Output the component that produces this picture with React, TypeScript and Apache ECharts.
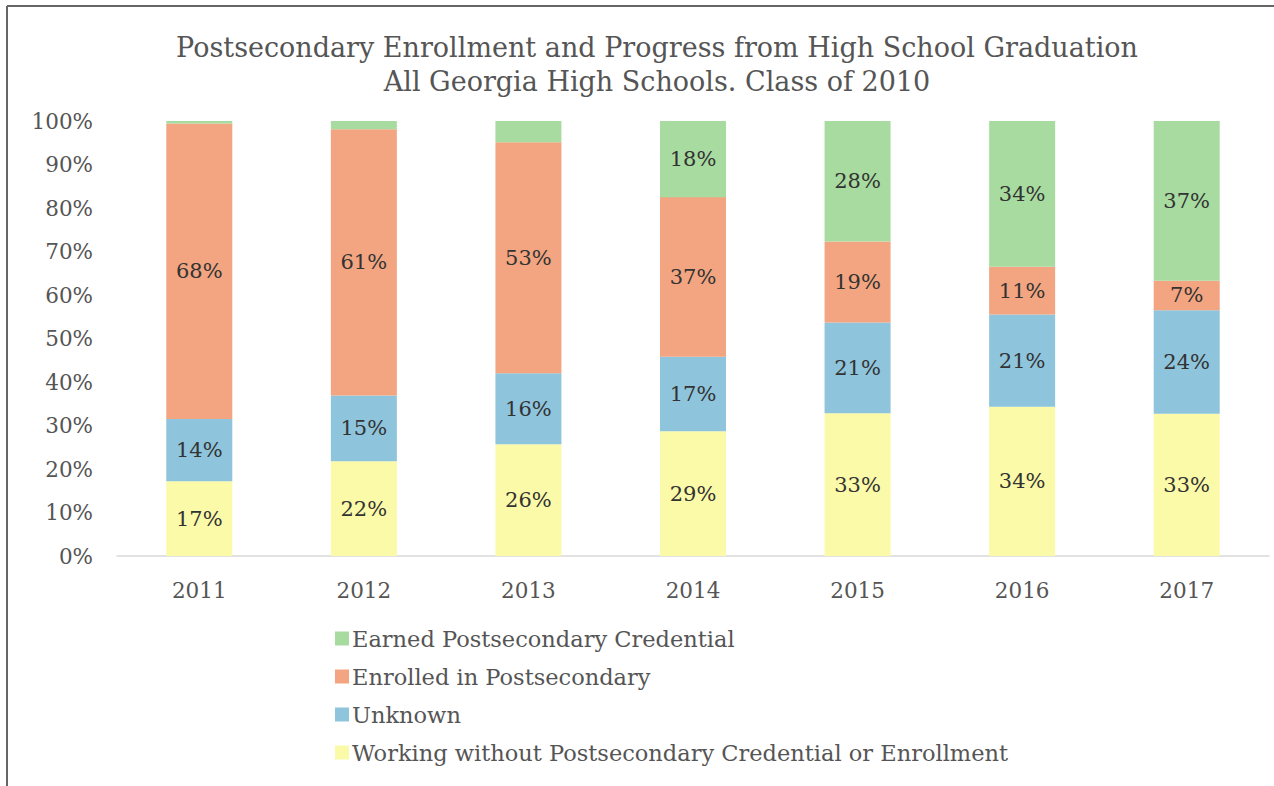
import React, { useEffect, useRef } from "react";
import * as echarts from "echarts";

const years = ["2011", "2012", "2013", "2014", "2015", "2016", "2017"];
const working = [17.2, 21.8, 25.7, 28.7, 32.8, 34.3, 32.7];
const unknown = [14.3, 15.1, 16.3, 17.1, 20.9, 21.2, 23.8];
const enrolled = [67.9, 61.2, 53.1, 36.7, 18.6, 11.0, 6.8];
const earned = [0.6, 1.9, 4.9, 17.5, 27.7, 33.5, 36.7];
const yTicks = [0, 10, 20, 30, 40, 50, 60, 70, 80, 90, 100];

const FONT = "DejaVu Serif";

export default function App() {
  const ref = useRef<HTMLDivElement>(null);
  useEffect(() => {
    if (!ref.current) return;
    const chart = echarts.init(ref.current, undefined, { renderer: "svg" });
    const label = {
      show: true,
      position: "inside",
      fontFamily: FONT,
      fontSize: 21,
      color: "#333333",
      formatter: (p: any) => (p.value >= 6 ? Math.round(p.value) + "%" : ""),
    };
    const mk = (name: string, data: number[], color: string) => ({
      name,
      type: "bar",
      stack: "total",
      data,
      barWidth: 66,
      itemStyle: { color },
      label,
      emphasis: { disabled: true },
    });
    chart.setOption({
      animation: false,
      backgroundColor: "#ffffff",
      title: {
        text: "Postsecondary Enrollment and Progress from High School Graduation\nAll Georgia High Schools. Class of 2010",
        left: 652,
        top: 25,
        textAlign: "center",
        textStyle: {
          fontFamily: FONT,
          fontWeight: "normal",
          fontSize: 27,
          lineHeight: 34,
          color: "#555555",
        },
      },
      graphic: [
        { type: "line", shape: { x1: 7, y1: 6, x2: 1274, y2: 6 }, style: { stroke: "#666666", lineWidth: 2 } },
        { type: "line", shape: { x1: 7, y1: 6, x2: 7, y2: 786 }, style: { stroke: "#666666", lineWidth: 2 } },
      ],
      grid: { left: 117, right: 5, top: 121, bottom: 230 },
      legend: {
        orient: "vertical",
        left: 330,
        top: 622,
        itemGap: 15,
        itemWidth: 14,
        itemHeight: 14,
        icon: "rect",
        data: [
          "Earned Postsecondary Credential",
          "Enrolled in Postsecondary",
          "Unknown",
          "Working without Postsecondary Credential or Enrollment",
        ],
        textStyle: { fontFamily: FONT, fontSize: 22.5, lineHeight: 23, color: "#555555", padding: [0, 0, 0, -2] },
      },
      xAxis: {
        type: "category",
        data: years,
        axisLine: { lineStyle: { color: "#d9d9d9", width: 1.5 } },
        axisTick: { show: false },
        axisLabel: { fontFamily: FONT, fontSize: 21.5, color: "#555555", margin: 23 },
      },
      yAxis: {
        type: "value",
        min: 0,
        max: 100,
        interval: 10,
        splitLine: { show: false },
        axisLine: { show: false },
        axisTick: { show: false },
        axisLabel: {
          fontFamily: FONT,
          fontSize: 21.5,
          color: "#555555",
          margin: 24,
          formatter: (v: number) => (yTicks.includes(v) ? v + "%" : ""),
        },
      },
      series: [
        mk("Working without Postsecondary Credential or Enrollment", working, "#fbfaa8"),
        mk("Unknown", unknown, "#8ec4dc"),
        mk("Enrolled in Postsecondary", enrolled, "#f2a580"),
        mk("Earned Postsecondary Credential", earned, "#a8dba0"),
      ],
    });
    return () => chart.dispose();
  }, []);
  return (
    <div
      ref={ref}
      style={{ position: "fixed", left: 0, top: 0, width: 1274, height: 786 }}
    />
  );
}
